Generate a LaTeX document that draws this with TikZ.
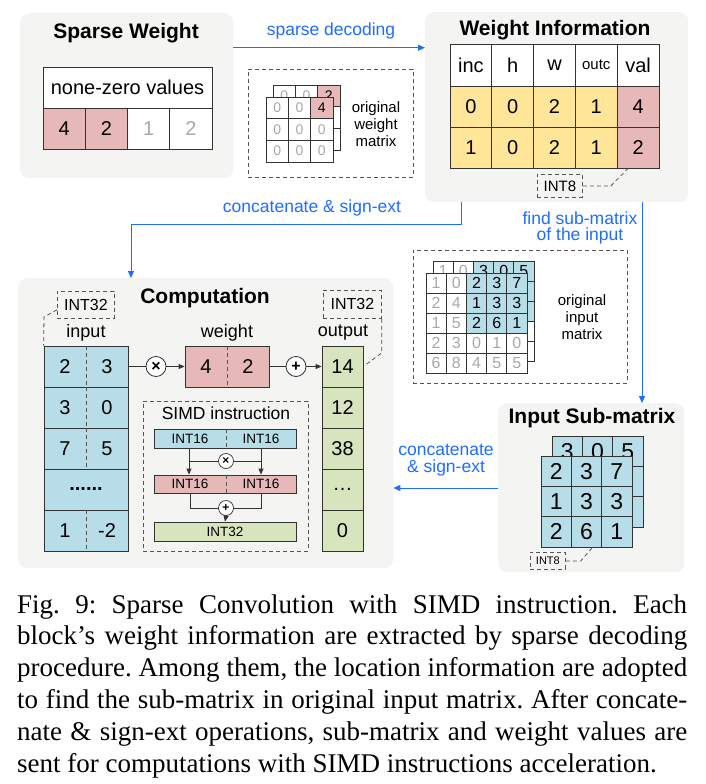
\documentclass[tikz,border=0pt]{standalone}
\usepackage{fontspec}
\setmainfont{Liberation Sans}
\newfontfamily\capserif{Liberation Serif}
\usetikzlibrary{arrows.meta,calc}
\definecolor{panelbg}{HTML}{F4F4F2}
\definecolor{pinkc}{HTML}{E6B9B8}
\definecolor{yellc}{HTML}{FFE699}
\definecolor{bluec}{HTML}{B7DEE8}
\definecolor{greenc}{HTML}{D7E4BD}
\definecolor{flowc}{RGB}{30,110,255}
\definecolor{linec}{HTML}{333333}
\definecolor{graytxt}{HTML}{A8A8A8}
\definecolor{dashc}{HTML}{555555}
\newcommand\fsTitle{\fontsize{21}{25}\selectfont\bfseries}
\newcommand\fsMid{\fontsize{20}{24}\selectfont}
\newcommand\fsFlow{\fontsize{17.5}{16.5}\selectfont}
\newcommand\fsLbl{\fontsize{15}{16.8}\selectfont}
\newcommand\fsSmall{\fontsize{14}{16}\selectfont}
\newcommand\fsInM{\fontsize{16}{18}\selectfont}
\newcommand\fsSub{\fontsize{23}{26}\selectfont}
\newcommand\fsCol{\fontsize{18}{21}\selectfont}
\newcommand\fsInt{\fontsize{16}{18}\selectfont}
\newcommand\fsIntW{\fontsize{15}{17}\selectfont}
\newcommand\fsSimd{\fontsize{17.5}{20}\selectfont}
\newcommand\fsBar{\fontsize{13.5}{15}\selectfont}
\newcommand\fsTiny{\fontsize{11}{13}\selectfont}
\newcommand\fsCap{\capserif\frenchspacing\fontsize{27}{31.8}\selectfont}
\tikzset{
  panel/.style={fill=panelbg, rounded corners=9pt, draw=none, anchor=north west, inner sep=0},
  ttl/.style={font=\fsTitle, inner sep=0},
  cellbox/.style={draw=linec, line width=0.8pt, inner sep=0, anchor=center, font=\fsMid},
  mcell/.style={cellbox, minimum width=22.33pt, minimum height=21.67pt, font=\fsSmall},
  icell/.style={cellbox, minimum width=20.2pt, minimum height=20pt, font=\fsInM},
  scell/.style={cellbox, minimum width=30.3pt, minimum height=30.3pt, font=\fsSub},
  flow/.style={draw=flowc, line width=1pt, -{Triangle[length=7pt,width=6pt]}},
  flowlbl/.style={text=flowc, font=\fsFlow, inner sep=0, align=center},
  dbox/.style={draw=dashc, dash pattern=on 4pt off 3pt, line width=0.8pt, anchor=north west, inner sep=0},
  dline/.style={draw=dashc, dash pattern=on 4pt off 3pt, line width=0.8pt},
  lbl/.style={inner sep=0, align=center},
  opc/.style={circle, draw=linec, fill=white, line width=0.8pt, minimum size=20pt, inner sep=0, font=\fontsize{16}{16}\selectfont\bfseries},
  sopc/.style={circle, draw=linec, fill=white, line width=0.7pt, minimum size=15pt, inner sep=0, font=\fontsize{12}{12}\selectfont\bfseries},
  arr/.style={draw=linec, line width=0.8pt, -{Triangle[length=6pt,width=5pt]}},
  conn/.style={draw=linec, line width=0.8pt},
  bar/.style={cellbox, minimum width=142pt, font=\fsBar},
  capline/.style={anchor=base west, inner sep=0, font=\fsCap}
}
\begin{document}
\begin{tikzpicture}[x=1pt,y=-1pt]
\path[use as bounding box, fill=white] (0,0) rectangle (705,784);

% ---------- panels ----------
\node[panel, minimum width=213pt, minimum height=165pt] (swp) at (20,13) {};
\node[panel, minimum width=263pt, minimum height=190pt] (wip) at (425,12) {};
\node[panel, minimum width=375pt, minimum height=290pt] (cpp) at (18,278) {};
\node[panel, minimum width=186pt, minimum height=169pt] (ismp) at (498,403) {};

% ---------- Sparse Weight ----------
\node[ttl] (swt) at (126,33) {Sparse Weight};
\node[cellbox, fill=white, minimum width=169pt, minimum height=41pt] (swh) at (127.5,87.5) {none-zero values};
\foreach \v/\f/\t [count=\k from 0] in {4/pinkc/black, 2/pinkc/black, 1/white/graytxt, 2/white/graytxt}
  \node[cellbox, fill=\f, text=\t, minimum width=42.25pt, minimum height=41pt] (sw\k) at (64.1+42.25*\k,128.5) {\v};

% ---------- sparse decoding ----------
\draw[flow] (swp.east |- 0,47.7) -- (wip.west |- 0,47.7);
\node[flowlbl] (sdl) at (331,31) {sparse decoding};

% ---------- original weight matrix ----------
\node[dbox, minimum width=165pt, minimum height=108pt] (owb) at (248,69) {};
\foreach \i in {0,1,2}{\foreach \j in {0,1,2}{
  \def\cf{white}\def\ct{}
  \ifnum\i=0 \ifnum\j=2 \def\cf{pinkc}\def\ct{2}\else\def\ct{\textcolor{graytxt}{0}}\fi\fi
  \node[mcell, fill=\cf] (owk\i\j) at (284.2+22.33*\j, 95.8+21.67*\i) {\ct};
}}
\foreach \i in {0,1,2}{\foreach \j in {0,1,2}{
  \def\cf{white}\def\ct{\textcolor{graytxt}{0}}
  \ifnum\i=0 \ifnum\j=2 \def\cf{pinkc}\def\ct{4}\fi\fi
  \node[mcell, fill=\cf] (owf\i\j) at (277.2+22.33*\j, 107.8+21.67*\i) {\ct};
}}
\node[lbl, font=\fsLbl] (owl) at (376,124) {original\\weight\\matrix};

% ---------- Weight Information ----------
\node[ttl] (wit) at (555,30) {Weight Information};
\foreach \t [count=\k from 0] in {inc,h,w,{\fsIntW outc},val}
  \node[cellbox, fill=white, minimum width=41.8pt, minimum height=42pt] (wh\k) at (470.9+41.8*\k,65) {\t};
\foreach \a/\b/\c/\d/\e [count=\r from 0] in {0/0/2/1/4,1/0/2/1/2}{
  \foreach \v [count=\k from 0] in {\a,\b,\c,\d}
    \node[cellbox, fill=yellc, minimum width=41.8pt, minimum height=41pt] (wr\r c\k) at (470.9+41.8*\k,106.5+41*\r) {\v};
  \node[cellbox, fill=pinkc, minimum width=41.8pt, minimum height=41pt] (wr\r c4) at (638.1,106.5+41*\r) {\e};
}
\node[dbox, minimum width=45pt, minimum height=23pt, font=\fsIntW] (wi8) at (537,174) {INT8};
\draw[dline] (wi8.east) -- ++(28,0) -- ($(wr1c4.south)+(-10,0)$);

% ---------- concatenate & sign-ext (top) ----------
\coordinate (ctop) at (131,224);
\draw[flow] (wip.south -| 461,0) |- (ctop) -- (cpp.north -| ctop);
\node[flowlbl] (cl1) at (312,208) {concatenate \& sign-ext};

% ---------- find sub-matrix ----------
\draw[flow] (wip.south -| 642,0) -- (ismp.north -| 642,0);
\node[flowlbl] (fsl) at (580,228) {find sub-matrix\\of the input};

% ---------- original input matrix ----------
\node[dbox, minimum width=214pt, minimum height=133pt] (oib) at (413,250) {};
\foreach \i in {0,...,4}{\foreach \j in {0,...,4}{
  \def\cf{white}
  \ifnum\i<3 \ifnum\j>1 \def\cf{bluec}\fi\fi
  \node[icell, fill=\cf] (oik\i\j) at (443.1+20.2*\j, 271+20*\i) {};
}}
\foreach \v/\t [count=\j from 0] in {1/graytxt,0/graytxt,3/black,0/black,5/black}
  \node[inner sep=0, font=\fsInM, text=\t] (oikt\j) at (oik0\j) {\v};
\foreach \row [count=\i from 0] in {{1,0,2,3,7},{2,4,1,3,3},{1,5,2,6,1},{2,3,0,1,0},{6,8,4,5,5}}{
  \foreach \v [count=\j from 0] in \row {
    \def\cf{white}\def\tc{graytxt}
    \ifnum\i<3 \ifnum\j>1 \def\cf{bluec}\def\tc{black}\fi\fi
    \node[icell, fill=\cf, text=\tc] (oif\i\j) at (436.1+20.2*\j, 283+20*\i) {\v};
  }
}
\node[lbl, font=\fsLbl] (oil) at (582,317) {original\\input\\matrix};

% ---------- Input Sub-matrix ----------
\node[ttl] (ist) at (592,418) {Input Sub-matrix};
\foreach \i in {0,1,2}{\foreach \j in {0,1,2}{
  \def\ct{}
  \ifnum\i=0 \ifcase\j \def\ct{3}\or\def\ct{0}\or\def\ct{5}\fi\fi
  \ifnum\i=1 \ifnum\j=2 \def\ct{3}\fi\fi
  \node[scell, fill=bluec] (isk\i\j) at (567.2+30.3*\j, 451.2+30.3*\i) {\ct};
}}
\foreach \row [count=\i from 0] in {{2,3,7},{1,3,3},{2,6,1}}{
  \foreach \v [count=\j from 0] in \row
    \node[scell, fill=bluec] (isf\i\j) at (556.2+30.3*\j, 471.2+30.3*\i) {\v};
}
\node[dbox, minimum width=35pt, minimum height=17pt, font=\fsTiny] (is8) at (530,552) {INT8};
\draw[dline] (is8.east) -- ++(15,0) -- ($(isf21.south)+(6,0)$);

% ---------- concatenate & sign-ext (bottom) ----------
\draw[flow] (ismp.west |- 0,488) -- (cpp.east |- 0,488);
\node[flowlbl] (cl2) at (446,460) {concatenate\\\& sign-ext};

% ---------- Computation ----------
\node[ttl] (cpt) at (205,298) {Computation};
\node[lbl, font=\fsCol] (inl) at (86,333) {input};
\node[lbl, font=\fsCol] (wtl) at (227,333) {weight};
\node[lbl, font=\fsCol] (oul) at (343,333) {output};
% input column
\foreach \a/\b [count=\r from 0] in {2/3,3/0,7/5,x/x,1/-2}{
  \node[cellbox, fill=bluec, minimum width=84pt, minimum height=41pt] (in\r) at (86,366.5+41*\r) {};
}
\foreach \a/\b [count=\r from 0] in {2/3,3/0,7/5}{
  \draw[dline] (in\r.north) -- (in\r.south);
  \node[inner sep=0, font=\fsMid] (inl\r) at ($(in\r.center)+(-21,0)$) {\a};
  \node[inner sep=0, font=\fsMid] (inr\r) at ($(in\r.center)+(21,0)$) {\b};
}
\draw[dline] (in4.north) -- (in4.south);
\node[inner sep=0, font=\fsMid] (inl4) at ($(in4.center)+(-21,0)$) {1};
\node[inner sep=0, font=\fsMid] (inr4) at ($(in4.center)+(21,0)$) {-2};
\node[inner sep=0, font=\fsMid\bfseries] (indots) at (in3.center) {......};
% input INT32 callout
\node[dbox, minimum width=57pt, minimum height=27pt, font=\fsInt] (ini32) at (57,291) {INT32};
\draw[dline] ($(ini32.south west)+(0,-9)$) -- (44,317) -- (in0.north west);
% weight
\node[cellbox, fill=pinkc, minimum width=84pt, minimum height=41pt] (wt) at (227,366.5) {};
\draw[dline] (wt.north) -- (wt.south);
\node[inner sep=0, font=\fsMid] (wtl1) at ($(wt.center)+(-21,0)$) {4};
\node[inner sep=0, font=\fsMid] (wtr1) at ($(wt.center)+(21,0)$) {2};
% output column
\foreach \v [count=\r from 0] in {14,12,38,\dots,0}
  \node[cellbox, fill=greenc, minimum width=41pt, minimum height=41pt] (out\r) at (342.5,366.5+41*\r) {\v};
\node[dbox, minimum width=58pt, minimum height=28pt, font=\fsInt] (oui32) at (323,290) {INT32};
\draw[dline] (oui32.south east) -- ++(0,34) -- (out0.east);
% operations
\node[opc] (mul) at (156,366.5) {×};
\node[opc] (add) at (296,366.5) {+};
\draw[conn] (in0.east) -- (mul);
\draw[arr] (mul) -- (wt.west);
\draw[conn] (wt.east) -- (add);
\draw[arr] (add) -- (out0.west);
% SIMD
\node[dbox, minimum width=165pt, minimum height=150pt] (sb) at (143,401) {};
\node[lbl, font=\fsSimd] (sbt) at (226,413) {SIMD instruction};
\node[bar, fill=bluec, minimum height=19pt] (b16) at (225,438.5) {};
\node[bar, fill=pinkc, minimum height=18pt] (p16) at (225,484) {};
\node[bar, fill=greenc, minimum height=19pt] (g32) at (225,531.5) {INT32};
\draw[dline] (b16.north -| 226,0) -- (b16.south -| 226,0);
\draw[dline] (p16.north -| 226,0) -- (p16.south -| 226,0);
\node[inner sep=0, font=\fsBar] (b16l) at (190,438.5) {INT16};
\node[inner sep=0, font=\fsBar] (b16r) at (261,438.5) {INT16};
\node[inner sep=0, font=\fsBar] (p16l) at (190,484) {INT16};
\node[inner sep=0, font=\fsBar] (p16r) at (261,484) {INT16};
\node[sopc] (smul) at (226,461) {×};
\node[sopc] (sadd) at (226,508) {+};
\draw[arr] (b16.south -| 189,0) -- (p16.north -| 189,0);
\draw[arr] (b16.south -| 261,0) -- (p16.north -| 261,0);
\draw[conn] (smul.west) -- (smul.west -| 189,0);
\draw[conn] (smul.east) -- (smul.east -| 261,0);
\draw[conn] (p16.south -| 190,0) |- (sadd.west);
\draw[conn] (p16.south -| 261,0) |- (sadd.east);
\draw[arr] (sadd.south) -- (g32.north);

% ---------- caption ----------
\node[capline] (cap1) at (17,613) {\makebox[670pt][s]{Fig. 9: Sparse Convolution with SIMD instruction. Each}};
\node[capline] (cap2) at (17,644.8) {\makebox[670pt][s]{block’s weight information are extracted by sparse decoding}};
\node[capline] (cap3) at (17,676.6) {\makebox[670pt][s]{procedure. Among them, the location information are adopted}};
\node[capline] (cap4) at (17,708.4) {\makebox[670pt][s]{to find the sub-matrix in original input matrix. After concate-}};
\node[capline] (cap5) at (17,740.2) {\makebox[670pt][s]{nate \& sign-ext operations, sub-matrix and weight values are}};
\node[capline] (cap6) at (17,772) {sent for computations with SIMD instructions acceleration.};
\end{tikzpicture}
\end{document}
